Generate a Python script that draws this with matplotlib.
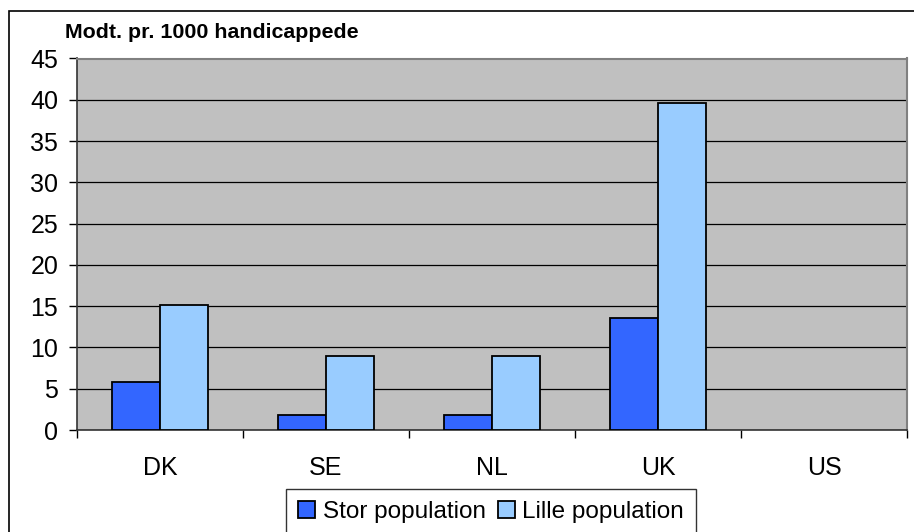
import matplotlib
matplotlib.use("Agg")
import matplotlib.pyplot as plt
from matplotlib.patches import Rectangle
import numpy as np

plt.rcParams['font.family'] = ['Liberation Sans', 'DejaVu Sans']

countries = ["DK", "SE", "NL", "UK", "US"]
stor = [5.8, 1.8, 1.8, 13.6, 0]
lille = [15.2, 9.0, 9.0, 39.6, 0]
series_names = ["Stor population", "Lille population"]

fig = plt.figure(figsize=(9.14, 5.32), dpi=100)
ax = fig.add_axes([77 / 914, 1 - 430 / 532, 830 / 914, 371.5 / 532])
ax.set_facecolor("#C0C0C0")

x = np.arange(len(countries))
w = 0.29
b1 = ax.bar(x - w / 2, stor, w, color="#3366FF", edgecolor="black", linewidth=1.3,
            label=series_names[0], zorder=3)
b2 = ax.bar(x + w / 2, lille, w, color="#99CCFF", edgecolor="black", linewidth=1.3,
            label=series_names[1], zorder=3)
# empty bars (US) show no outline
for p in list(b1) + list(b2):
    if p.get_height() == 0:
        p.set_linewidth(0)

ax.set_xlim(-0.5, len(countries) - 0.5)
ax.set_ylim(0, 45)
ax.set_yticks(range(0, 46, 5))
ax.yaxis.grid(True, color="black", linewidth=0.9, zorder=1)
ax.set_axisbelow(True)

ax.set_xticks(x)
ax.set_xticklabels(countries)
ax.set_xticks(np.arange(-0.5, len(countries), 1), minor=True)
ax.tick_params(axis="x", which="major", length=0, pad=19, labelsize=18)
ax.tick_params(axis="x", which="minor", length=5.5, width=1, color="black")
ax.tick_params(axis="y", length=6, width=1, pad=7.5, labelsize=18)

for s in ["top", "right"]:
    ax.spines[s].set_color("#808080")
    ax.spines[s].set_linewidth(1.5)
for s in ["left", "bottom"]:
    ax.spines[s].set_color("#333333")
    ax.spines[s].set_linewidth(1.2)

fig.text(65 / 914, 1 - 32 / 532, "Modt. pr. 1000 handicappede", fontsize=15.4,
         fontweight="bold", ha="left", va="center")

leg = fig.legend(loc="upper center", bbox_to_anchor=(491 / 914, 1 - 489 / 532),
                 ncol=2, fontsize=17.5, frameon=True, fancybox=False,
                 handlelength=0.7, handleheight=0.7, handletextpad=0.3,
                 columnspacing=0.5, borderpad=0.5, borderaxespad=0)
leg.get_frame().set_edgecolor("black")
leg.get_frame().set_linewidth(1)

# outer chart border (cut off at right and bottom)
fig.patches.append(Rectangle((8.5 / 914, -0.1), 1.2, 1 - 11 / 532 + 0.1,
                             transform=fig.transFigure, fill=False,
                             edgecolor="black", linewidth=1.2))

fig.savefig("out.png", dpi=100)
